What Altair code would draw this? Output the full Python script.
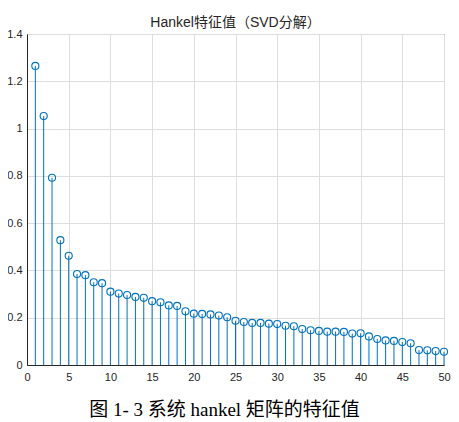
import altair as alt
import pandas as pd

index = list(range(1, 51))
values = [1.265, 1.053, 0.792, 0.528, 0.462, 0.385, 0.380, 0.350, 0.346, 0.310,
          0.302, 0.296, 0.288, 0.284, 0.270, 0.265, 0.252, 0.250, 0.227, 0.217,
          0.216, 0.214, 0.209, 0.202, 0.187, 0.182, 0.178, 0.178, 0.175, 0.173,
          0.166, 0.164, 0.152, 0.147, 0.144, 0.141, 0.141, 0.140, 0.133, 0.134,
          0.121, 0.110, 0.104, 0.102, 0.097, 0.092, 0.063, 0.062, 0.059, 0.056]
x_ticks = [0, 5, 10, 15, 20, 25, 30, 35, 40, 45, 50]
y_ticks = [0, 0.2, 0.4, 0.6, 0.8, 1.0, 1.2, 1.4]
title_text = "Hankel特征值（SVD分解）"
caption = "图 1- 3 系统 hankel 矩阵的特征值"

df = pd.DataFrame({"k": index, "v": values})
blue = "#0072BD"
sans = "Liberation Sans, Arial, Noto Sans CJK SC"
serif = "Liberation Serif, Noto Sans CJK SC"

x = alt.X("k:Q", scale=alt.Scale(domain=[0, 50], nice=False, zero=False),
          axis=alt.Axis(values=x_ticks, title=caption, grid=True, ticks=False,
                        labelPadding=6, labelFontSize=11, labelFont=sans,
                        labelColor="#262626", domainColor="#262626",
                        gridColor="#dedede", labelFlush=False,
                        titleFont=serif, titleFontSize=19, titleFontWeight="normal",
                        titleColor="#000000", titleX=197, titleY=50,
                        titleBaseline="alphabetic", titleAlign="center"))
y = alt.Y("v:Q", scale=alt.Scale(domain=[0, 1.4], nice=False),
          axis=alt.Axis(values=y_ticks, format=".1~f", title=None, grid=True,
                        ticks=False, labelPadding=5, labelFontSize=11,
                        labelFont=sans, labelColor="#262626",
                        domainColor="#262626", gridColor="#dedede"))

stems = alt.Chart(df).mark_rule(color=blue, strokeWidth=1).encode(
    x=x, y=y, y2=alt.datum(0))
points = alt.Chart(df).mark_point(shape="circle", filled=False, size=50,
                                  strokeWidth=1.1, color=blue, opacity=1).encode(
    x=x, y=y)

chart = alt.layer(stems, points).properties(
    width=417, height=331,
    autosize=alt.AutoSizeParams(type="none"),
    padding={"left": 19, "top": 26, "right": 7, "bottom": 55},
    title=alt.TitleParams(text=title_text, font=sans, fontSize=14,
                          fontWeight="normal", color="#262626",
                          anchor="middle", offset=-2),
).configure_view(stroke="#262626", strokeWidth=1)

chart.save("out.html", embed_options={"renderer": "svg", "actions": False})
